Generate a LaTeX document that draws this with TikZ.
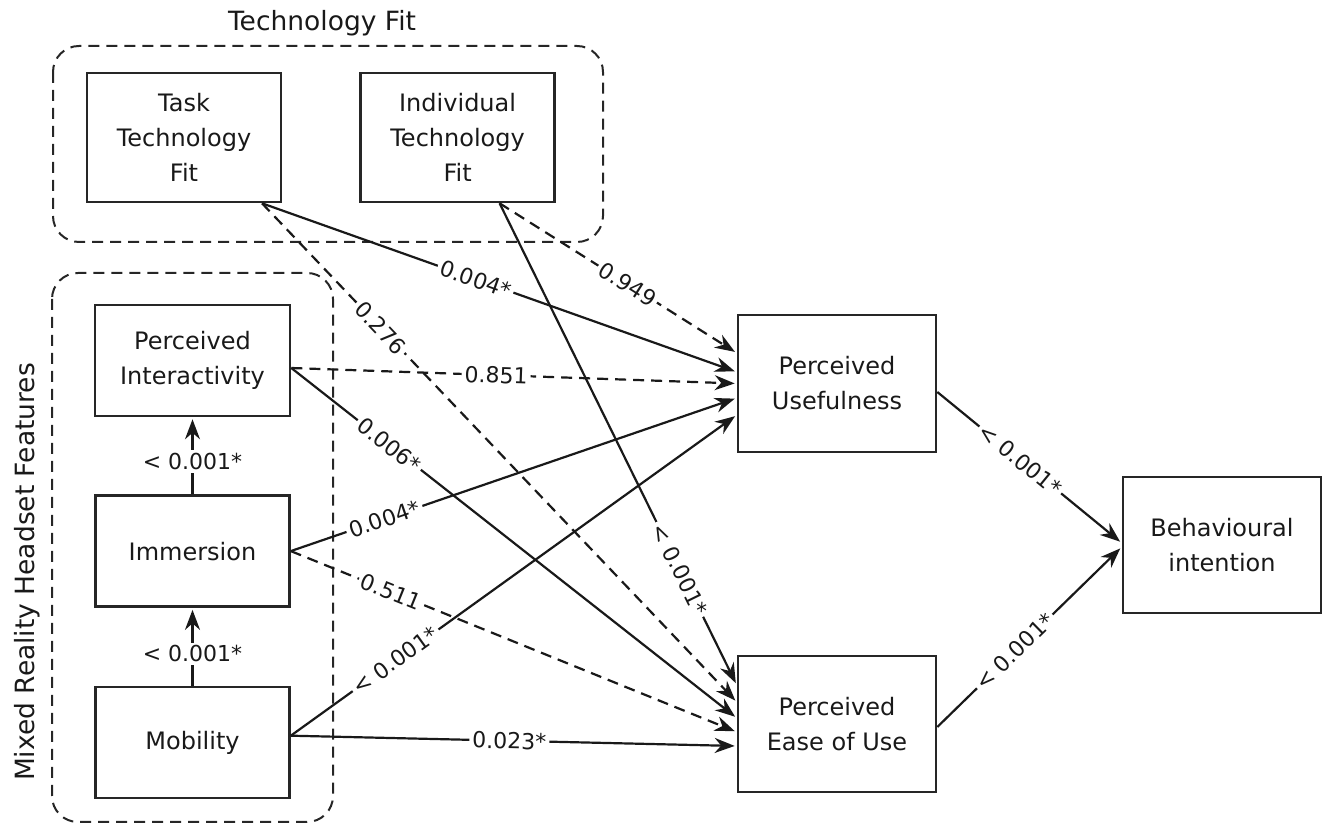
\documentclass[tikz,border=0pt]{standalone}
\usepackage{fontspec}
\setmainfont{DejaVu Sans}
\usepackage{tikz}
\usetikzlibrary{arrows.meta,positioning}

\begin{document}
\begin{tikzpicture}[x=1pt, y=1pt, node distance=77pt, every node/.style={font=\fontsize{24}{35}\selectfont, align=center, text=black!90}, box/.style={rectangle, draw=black!85, line width=2.6pt, minimum width=194pt, minimum height=129pt, inner sep=0pt}, small/.style={box, minimum height=111pt}, wide/.style={box, minimum width=198pt, minimum height=137pt}, group/.style={draw=black!85, line width=2pt, dash pattern=on 11pt off 7pt, rounded corners=26pt}, heading/.style={font=\fontsize{26.5}{30}\selectfont}, link/.style={draw=black!90, line width=2.2pt, shorten >=2pt, -{Stealth[length=20pt,width=15pt]}}, nslink/.style={link, dash pattern=on 11pt off 7pt}, pval/.style={sloped, fill=white, inner sep=3pt, font=\fontsize{22}{26}\selectfont}, vval/.style={fill=white, inner sep=3pt, font=\fontsize{22}{26}\selectfont}]
\useasboundingbox (0,0) rectangle (1326,824);
\draw[group] (53,778) rectangle (603,582);
\draw[group] (52,551) rectangle (333,2);
\node[heading] (fittitle) at (322,801) {Technology Fit};
\node[heading, rotate=90] (mrtitle) at (27,252) {Mixed Reality Headset Features};
\node[box] (ttf) at (184,686.5) {Task\\Technology\\Fit};
\node[box, right=of ttf] (itf) {Individual\\Technology\\Fit};
\node[small, minimum width=195pt] (pi) at (192.5,463.5) {Perceived\\Interactivity};
\node[small, below=of pi] (imm) {Immersion};
\node[small, below=78pt of imm] (mob) {Mobility};
\node[wide] (pu) at (837,440.5) {Perceived\\Usefulness};
\node[wide, minimum height=136pt] (peou) at (837,100) {Perceived\\Ease of Use};
\node[wide, minimum height=136pt] (bi) at (1222,279) {Behavioural\\intention};
\draw[link] (mob.north) -- node[vval, pos=0.41] {< 0.001*} (imm.south);
\draw[link] (imm.north) -- node[vval, pos=0.43] {< 0.001*} (pi.south);
\draw[link] ([xshift=78pt]ttf.south) -- node[pval, pos=0.45] {0.004*} ([yshift=11.5pt]pu.west);
\draw[nslink] ([xshift=78pt]ttf.south) -- node[pval, pos=0.25] {0.276} ([yshift=22pt]peou.west);
\draw[nslink] ([xshift=42pt]itf.south) -- node[pval, pos=0.54] {0.949} ([yshift=30.5pt]pu.west);
\draw[link] ([xshift=42pt]itf.south) -- node[pval, pos=0.76] {< 0.001*} ([yshift=39pt]peou.west);
\draw[nslink] ([yshift=-7.5pt]pi.east) -- node[pval, pos=0.46] {0.851} (pu.west);
\draw[link] ([yshift=-7.5pt]pi.east) -- node[pval, pos=0.22] {0.006*} ([yshift=6pt]peou.west);
\draw[link] (imm.east) -- node[pval, pos=0.21] {0.004*} ([yshift=-14.5pt]pu.west);
\draw[nslink] (imm.east) -- node[pval, pos=0.225] {0.511} ([yshift=-8pt]peou.west);
\draw[link] ([yshift=7pt]mob.east) -- node[pval, pos=0.235] {< 0.001*} ([yshift=-31.5pt]pu.west);
\draw[link] ([yshift=7pt]mob.east) -- node[pval, pos=0.49] {0.023*} ([yshift=-22pt]peou.west);
\draw[link] ([yshift=-8.5pt]pu.east) -- node[pval, pos=0.45] {< 0.001*} ([yshift=2pt]bi.west);
\draw[link] ([yshift=-3pt]peou.east) -- node[pval, pos=0.42] {< 0.001*} ([yshift=-2pt]bi.west);
\end{tikzpicture}
\end{document}
